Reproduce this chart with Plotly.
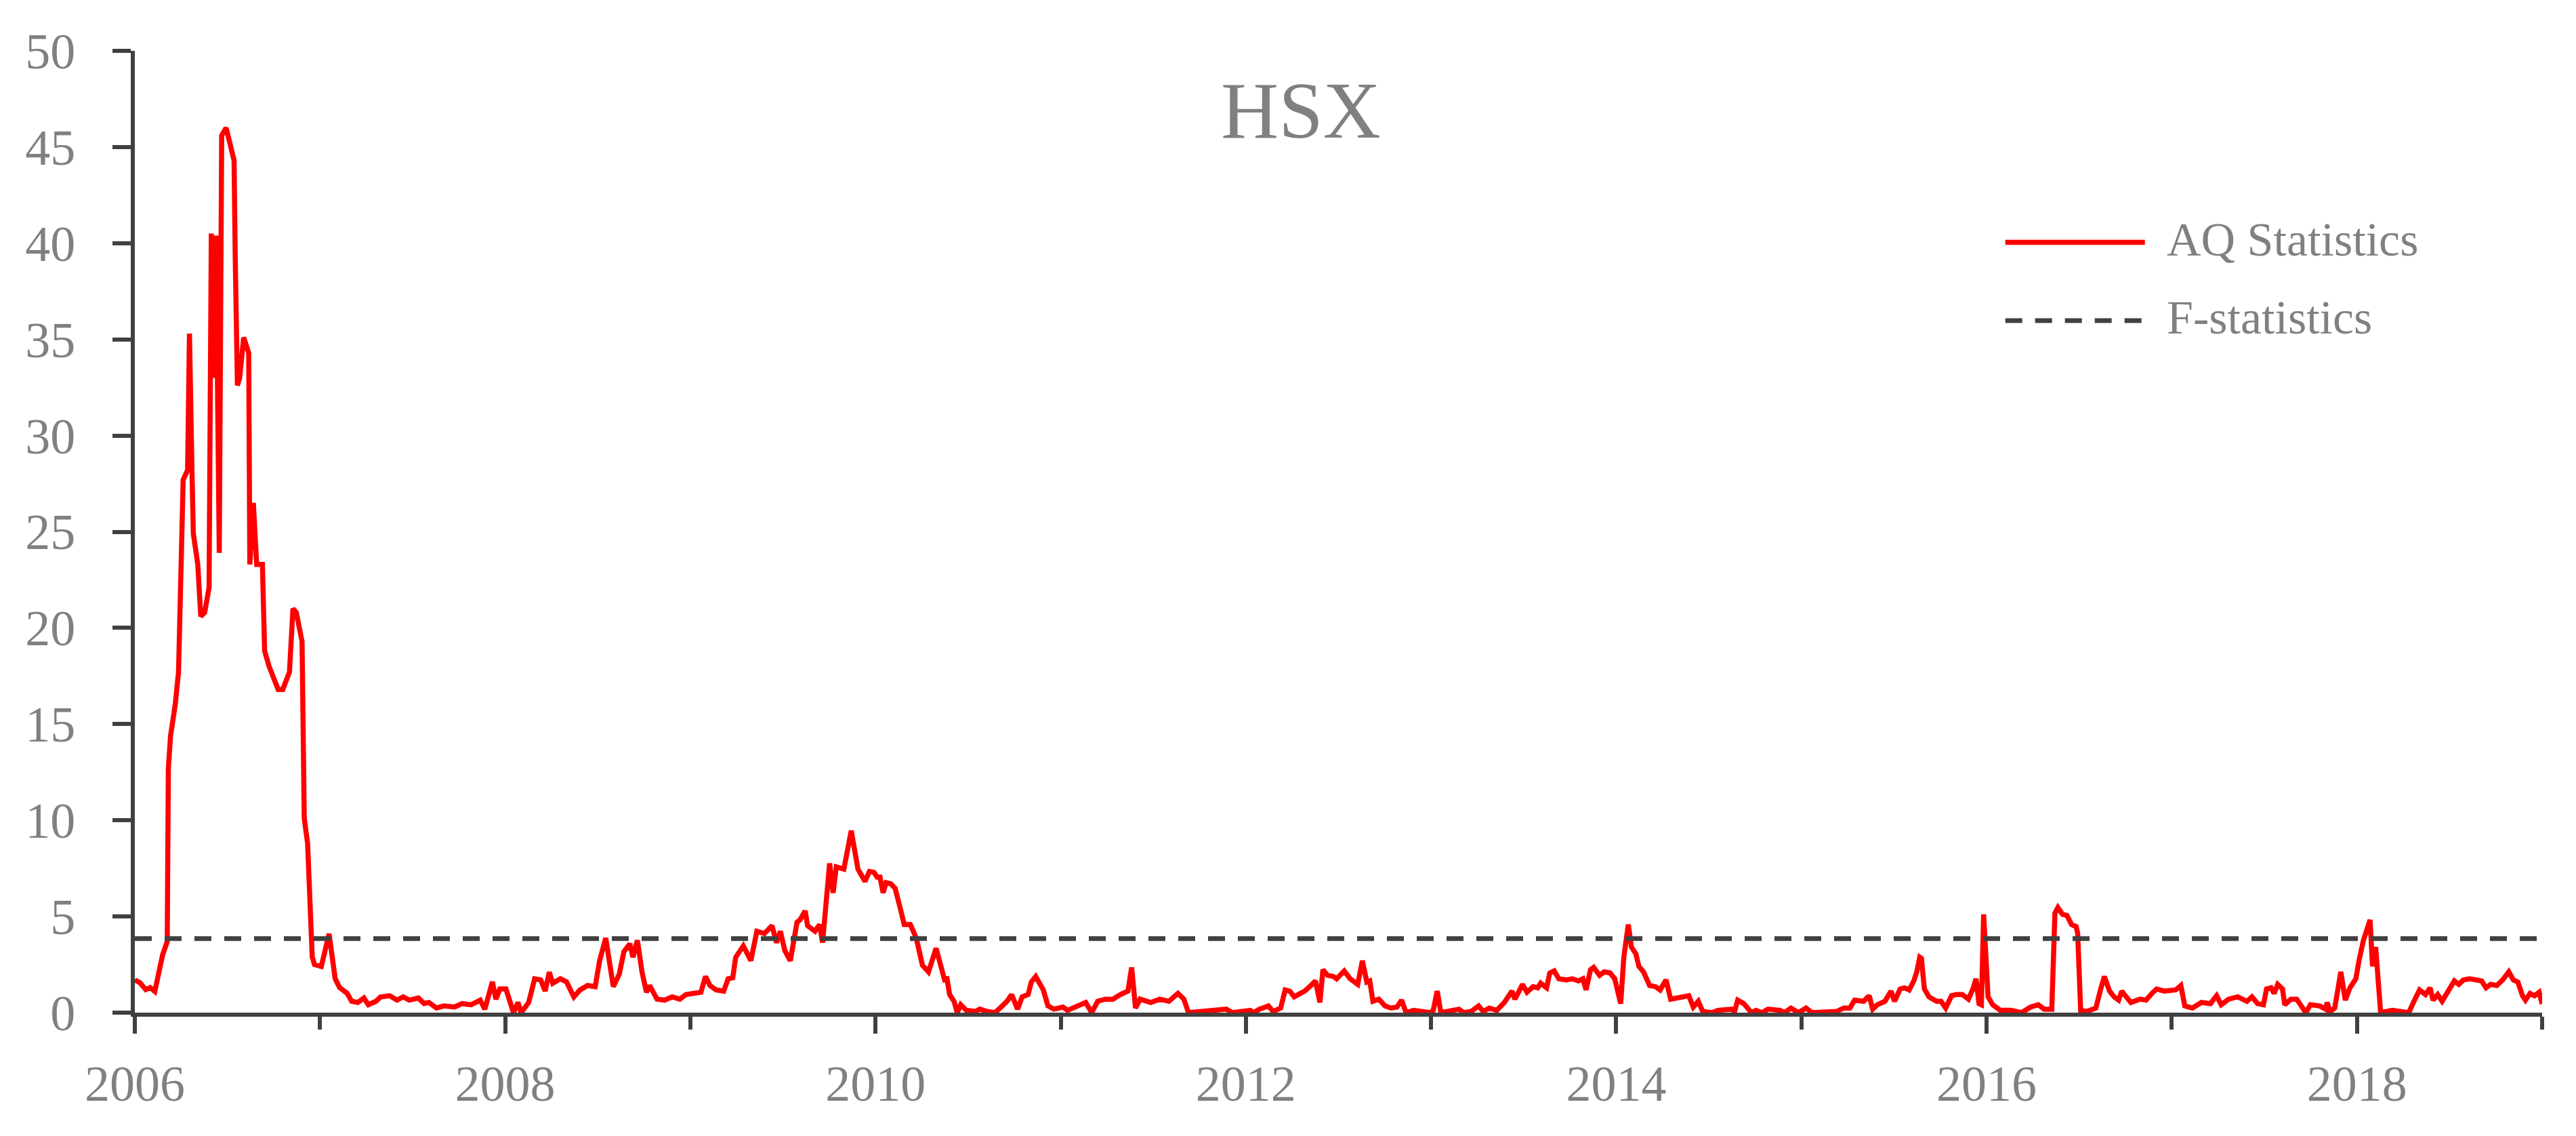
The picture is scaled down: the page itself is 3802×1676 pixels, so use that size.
import plotly.graph_objects as go

# AQ statistics (decimal year, value)
aq_year = [
    2006.000, 2006.028, 2006.059, 2006.083, 2006.108, 2006.126, 2006.150, 2006.175, 2006.181, 2006.193,
    2006.218, 2006.236, 2006.248, 2006.261, 2006.285, 2006.295, 2006.309, 2006.316, 2006.340, 2006.356,
    2006.377, 2006.401, 2006.407, 2006.413, 2006.426, 2006.438, 2006.456, 2006.469, 2006.493, 2006.511,
    2006.536, 2006.542, 2006.554, 2006.566, 2006.588, 2006.615, 2006.621, 2006.640, 2006.658, 2006.689,
    2006.701, 2006.725, 2006.774, 2006.799, 2006.835, 2006.854, 2006.872, 2006.903, 2006.909, 2006.915,
    2006.933, 2006.946, 2006.958, 2006.970, 2007.007,
    2007.049, 2007.065, 2007.082, 2007.106, 2007.147, 2007.171, 2007.204, 2007.237, 2007.261, 2007.302,
    2007.327, 2007.376, 2007.416, 2007.449, 2007.482, 2007.531, 2007.563, 2007.588, 2007.629, 2007.669,
    2007.727, 2007.767, 2007.816, 2007.865, 2007.890, 2007.931, 2007.950, 2007.971,
    2008.004, 2008.045, 2008.069, 2008.086, 2008.127, 2008.159, 2008.192, 2008.216, 2008.238, 2008.257,
    2008.298, 2008.331, 2008.371, 2008.404, 2008.445, 2008.486, 2008.510, 2008.543, 2008.584, 2008.616,
    2008.641, 2008.673, 2008.690, 2008.714, 2008.739, 2008.763, 2008.780, 2008.820, 2008.861, 2008.902,
    2008.943, 2008.976,
    2009.016, 2009.057, 2009.082, 2009.106, 2009.139, 2009.180, 2009.204, 2009.229, 2009.245, 2009.286,
    2009.327, 2009.359, 2009.400, 2009.441, 2009.465, 2009.486, 2009.510, 2009.540, 2009.576, 2009.592,
    2009.620, 2009.633, 2009.673, 2009.698, 2009.714, 2009.731, 2009.752, 2009.771, 2009.788, 2009.829,
    2009.869, 2009.905, 2009.943, 2009.967, 2009.992,
    2010.008, 2010.024, 2010.041, 2010.057, 2010.082, 2010.106, 2010.131, 2010.155, 2010.188, 2010.220,
    2010.253, 2010.286, 2010.327, 2010.351, 2010.376, 2010.384, 2010.400, 2010.424, 2010.441, 2010.460,
    2010.490, 2010.539, 2010.563, 2010.604, 2010.645, 2010.678, 2010.710, 2010.735, 2010.767, 2010.792,
    2010.824, 2010.841, 2010.865, 2010.906, 2010.931, 2010.963,
    2011.012, 2011.037, 2011.078, 2011.135, 2011.167, 2011.200, 2011.241, 2011.282, 2011.322, 2011.363,
    2011.383, 2011.404, 2011.429, 2011.486, 2011.535, 2011.584, 2011.633, 2011.665, 2011.690, 2011.747,
    2011.820, 2011.861, 2011.894, 2011.927, 2011.976,
    2012.024, 2012.041, 2012.073, 2012.122, 2012.147, 2012.188, 2012.212, 2012.237, 2012.261, 2012.294,
    2012.318, 2012.351, 2012.376, 2012.400, 2012.416, 2012.441, 2012.473, 2012.490, 2012.531, 2012.563,
    2012.604, 2012.629, 2012.653, 2012.669, 2012.686, 2012.718, 2012.751, 2012.784, 2012.816, 2012.841,
    2012.865, 2012.906, 2012.947, 2012.996,
    2013.012, 2013.033, 2013.053, 2013.102, 2013.151, 2013.176, 2013.216, 2013.257, 2013.282, 2013.314,
    2013.355, 2013.396, 2013.437, 2013.453, 2013.494, 2013.518, 2013.551, 2013.576, 2013.592, 2013.624,
    2013.641, 2013.665, 2013.690, 2013.731, 2013.763, 2013.796, 2013.820, 2013.837, 2013.861, 2013.878,
    2013.910, 2013.935, 2013.967, 2013.992,
    2014.024, 2014.041, 2014.065, 2014.082, 2014.106, 2014.122, 2014.147, 2014.180, 2014.212, 2014.237,
    2014.269, 2014.294, 2014.343, 2014.392, 2014.416, 2014.443, 2014.467, 2014.516, 2014.549, 2014.623,
    2014.639, 2014.656, 2014.689, 2014.730, 2014.754, 2014.787, 2014.820, 2014.885, 2014.910, 2014.943,
    2014.984,
    2015.025, 2015.057, 2015.123, 2015.189, 2015.230, 2015.262, 2015.287, 2015.336, 2015.366, 2015.385,
    2015.410, 2015.451, 2015.484, 2015.503, 2015.533, 2015.557, 2015.582, 2015.607, 2015.623, 2015.639,
    2015.648, 2015.664, 2015.689, 2015.730, 2015.754, 2015.779, 2015.811, 2015.836, 2015.869, 2015.902,
    2015.926, 2015.943, 2015.959, 2015.972, 2015.984, 2015.992,
    2016.008, 2016.033, 2016.074, 2016.131, 2016.189, 2016.238, 2016.279, 2016.311, 2016.352, 2016.369,
    2016.385, 2016.410, 2016.434, 2016.459, 2016.484, 2016.492, 2016.508, 2016.541, 2016.590, 2016.615,
    2016.636, 2016.664, 2016.689, 2016.713, 2016.730, 2016.754, 2016.779, 2016.828, 2016.861, 2016.893,
    2016.918, 2016.959, 2016.989,
    2017.021, 2017.049, 2017.070, 2017.111, 2017.160, 2017.209, 2017.242, 2017.267, 2017.307, 2017.356,
    2017.406, 2017.433, 2017.463, 2017.495, 2017.512, 2017.536, 2017.553, 2017.572, 2017.598, 2017.610,
    2017.643, 2017.675, 2017.700, 2017.724, 2017.749, 2017.798, 2017.831, 2017.839, 2017.855, 2017.880,
    2017.913, 2017.937, 2017.962, 2017.994,
    2018.011, 2018.035, 2018.071, 2018.084, 2018.101, 2018.112, 2018.128, 2018.191, 2018.280, 2018.305,
    2018.338, 2018.370, 2018.395, 2018.411, 2018.436, 2018.460, 2018.493, 2018.526, 2018.550, 2018.575,
    2018.608, 2018.648, 2018.673, 2018.697, 2018.722, 2018.755, 2018.787, 2018.820, 2018.845, 2018.869,
    2018.894, 2018.910, 2018.935, 2018.959, 2018.984, 2019.000,
]
aq_value = [
    1.70, 1.55, 1.20, 1.30, 1.10, 1.90, 3.00, 3.70, 12.7, 14.4,
    16.0, 17.7, 22.6, 27.7, 28.2, 35.3, 28.0, 24.9, 23.3, 20.6,
    20.8, 22.1, 31.5, 40.5, 33.0, 40.4, 23.9, 45.6, 46.0, 45.3,
    44.3, 39.4, 32.6, 33.0, 35.1, 34.3, 23.3, 26.5, 23.3, 23.3,
    18.8, 18.0, 16.8, 16.8, 17.7, 21.0, 20.8, 19.3, 14.4, 10.1,
    8.80, 5.20, 2.90, 2.50, 2.40,
    4.10, 2.70, 1.76, 1.30, 1.00, 0.59, 0.53, 0.76, 0.41, 0.59,
    0.82, 0.88, 0.65, 0.82, 0.65, 0.76, 0.47, 0.53, 0.24, 0.35,
    0.29, 0.47, 0.41, 0.65, 0.18, 1.60, 0.70, 1.23,
    1.23, 0.00, 0.53, 0.00, 0.53, 1.76, 1.70, 1.12, 2.10, 1.53,
    1.76, 1.60, 0.82, 1.18, 1.41, 1.35, 2.70, 3.88, 1.35, 2.00,
    3.17, 3.58, 2.88, 3.76, 2.10, 1.06, 1.41, 0.70, 0.65, 0.82,
    0.70, 0.94,
    1.00, 1.06, 1.88, 1.41, 1.18, 1.12, 1.76, 1.82, 2.88, 3.47,
    2.70, 4.23, 4.11, 4.52, 3.64, 4.23, 3.23, 2.70, 4.70, 4.82,
    5.29, 4.52, 4.23, 4.58, 3.64, 5.76, 7.76, 6.23, 7.58, 7.46,
    9.46, 7.46, 6.82, 7.34, 7.29,
    7.05, 7.05, 6.23, 6.76, 6.70, 6.46, 5.52, 4.58, 4.58, 3.88,
    2.47, 2.12, 3.35, 2.59, 1.59, 1.88, 0.94, 0.59, 0.00, 0.41,
    0.12, 0.06, 0.18, 0.06, 0.00, 0.29, 0.59, 0.94, 0.18, 0.82,
    0.94, 1.59, 1.88, 1.18, 0.35, 0.18,
    0.29, 0.12, 0.29, 0.53, 0.00, 0.59, 0.70, 0.70, 0.94, 1.12,
    2.35, 0.24, 0.70, 0.53, 0.70, 0.59, 1.00, 0.70, 0.00, 0.06,
    0.12, 0.12, 0.18, 0.00, 0.06,
    0.12, 0.00, 0.18, 0.35, 0.06, 0.24, 1.18, 1.12, 0.82, 1.00,
    1.12, 1.41, 1.65, 0.53, 2.23, 1.94, 1.88, 1.76, 2.17, 1.76,
    1.47, 2.70, 1.59, 1.65, 0.59, 0.70, 0.35, 0.24, 0.29, 0.65,
    0.00, 0.12, 0.06, 0.00,
    0.12, 1.12, 0.00, 0.12, 0.18, 0.00, 0.06, 0.35, 0.06, 0.24,
    0.12, 0.53, 1.12, 0.70, 1.47, 1.06, 1.35, 1.29, 1.53, 1.29,
    2.06, 2.17, 1.76, 1.70, 1.76, 1.65, 1.76, 1.18, 2.23, 2.35,
    1.94, 2.12, 2.06, 1.76,
    0.47, 2.88, 4.58, 3.41, 3.06, 2.41, 2.12, 1.41, 1.35, 1.18,
    1.70, 0.70, 0.82, 0.88, 0.29, 0.59, 0.06, 0.00, 0.12, 0.18,
    0.06, 0.65, 0.47, 0.00, 0.12, 0.00, 0.18, 0.12, 0.00, 0.24,
    0.00,
    0.24, 0.00, 0.00, 0.06, 0.24, 0.24, 0.65, 0.59, 0.88, 0.18,
    0.41, 0.59, 1.12, 0.59, 1.23, 1.29, 1.18, 1.65, 2.12, 2.88,
    2.82, 1.23, 0.82, 0.59, 0.59, 0.24, 0.88, 0.94, 0.94, 0.70,
    1.23, 1.76, 0.47, 0.41, 5.11, 3.30,
    0.82, 0.41, 0.12, 0.12, 0.00, 0.29, 0.41, 0.18, 0.18, 5.17,
    5.46, 5.11, 5.05, 4.58, 4.47, 4.11, 0.12, 0.06, 0.24, 1.18,
    1.88, 1.12, 0.82, 0.65, 1.12, 0.82, 0.53, 0.70, 0.65, 1.00,
    1.23, 1.12, 1.18,
    1.18, 1.41, 0.35, 0.24, 0.53, 0.47, 0.88, 0.41, 0.70, 0.82,
    0.59, 0.82, 0.47, 0.41, 1.23, 1.29, 1.00, 1.47, 1.23, 0.41,
    0.70, 0.70, 0.29, 0.00, 0.41, 0.35, 0.18, 0.53, 0.06, 0.24,
    2.12, 0.65, 1.29, 1.76,
    2.70, 3.76, 4.82, 2.41, 3.41, 2.12, 0.00, 0.12, 0.00, 0.53,
    1.18, 0.94, 1.29, 0.65, 0.94, 0.59, 1.12, 1.65, 1.47, 1.70,
    1.76, 1.65, 1.65, 1.29, 1.47, 1.41, 1.70, 2.12, 1.70, 1.59,
    0.88, 0.65, 1.00, 0.88, 1.06, 0.45,
]

f_stat = 3.85
x_start, x_end = 2006, 2019
label_years = [2006, 2008, 2010, 2012, 2014, 2016, 2018]
odd_years = [2007, 2009, 2011, 2013, 2015, 2017, 2019]
y_ticks = [0, 5, 10, 15, 20, 25, 30, 35, 40, 45, 50]

FONT = "Liberation Serif"
GREY = "#808080"
DARK = "#404040"

fig = go.Figure()

fig.add_trace(go.Scatter(
    x=aq_year, y=aq_value, mode="lines", name="AQ Statistics",
    line=dict(color="#ff0000", width=7.5), showlegend=False,
))
fig.add_trace(go.Scatter(
    x=[x_start, x_end], y=[f_stat, f_stat], mode="lines", name="F-statistics",
    line=dict(color=DARK, width=7, dash="25px,19px"), showlegend=False,
))

# hand-drawn legend, long line samples like the original
legend_rows = [("AQ Statistics", "#ff0000", "solid", 0.801), ("F-statistics", DARK, "25px,19px", 0.7195)]
for label, colour, dash, ypos in legend_rows:
    fig.add_shape(type="line", xref="paper", yref="paper", x0=0.777, x1=0.835, y0=ypos, y1=ypos,
                  line=dict(color=colour, width=7.5 if dash == "solid" else 7, dash=dash))
    fig.add_annotation(text=label, xref="paper", yref="paper", x=0.8435, y=ypos + 0.003,
                       xanchor="left", yanchor="middle", showarrow=False,
                       font=dict(family=FONT, size=70, color=GREY))

# page body keeps an 8px margin, so the figure is nudged up/left by that much
fig.update_layout(
    width=3802, height=1676,
    margin=dict(l=191, r=58, t=67, b=190),
    paper_bgcolor="white", plot_bgcolor="white",
    title=dict(text="HSX", x=0.4844, xref="paper", xanchor="center",
               y=0.939, yref="paper", yanchor="middle",
               font=dict(family=FONT, size=118, color=GREY)),
    xaxis=dict(
        range=[x_start, x_end], showgrid=False, zeroline=False,
        showline=True, linecolor=DARK, linewidth=6,
        tickmode="array", tickvals=label_years, ticktext=[str(y) for y in label_years],
        ticks="outside", ticklen=25, tickwidth=6, tickcolor=DARK,
        ticklabelstandoff=10,
        tickfont=dict(family=FONT, size=74, color=GREY),
        minor=dict(tickmode="array", tickvals=odd_years, ticks="outside",
                   ticklen=19, tickwidth=6, tickcolor=DARK, showgrid=False),
    ),
    xaxis2=dict(
        overlaying="x", matches="x", anchor="y", side="bottom",
        range=[x_start, x_end], showgrid=False, zeroline=False, showline=False,
        tickmode="array", tickvals=label_years[1:], showticklabels=False,
        ticks="inside", ticklen=27, tickwidth=6, tickcolor=DARK,
    ),
    yaxis=dict(
        range=[0, 50], showgrid=False, zeroline=False,
        showline=True, linecolor=DARK, linewidth=6,
        tickmode="array", tickvals=y_ticks,
        ticks="outside", ticklen=27, tickwidth=6, tickcolor=DARK,
        ticklabelstandoff=40,
        tickfont=dict(family=FONT, size=74, color=GREY),
    ),
)

fig.write_html("out.html")
